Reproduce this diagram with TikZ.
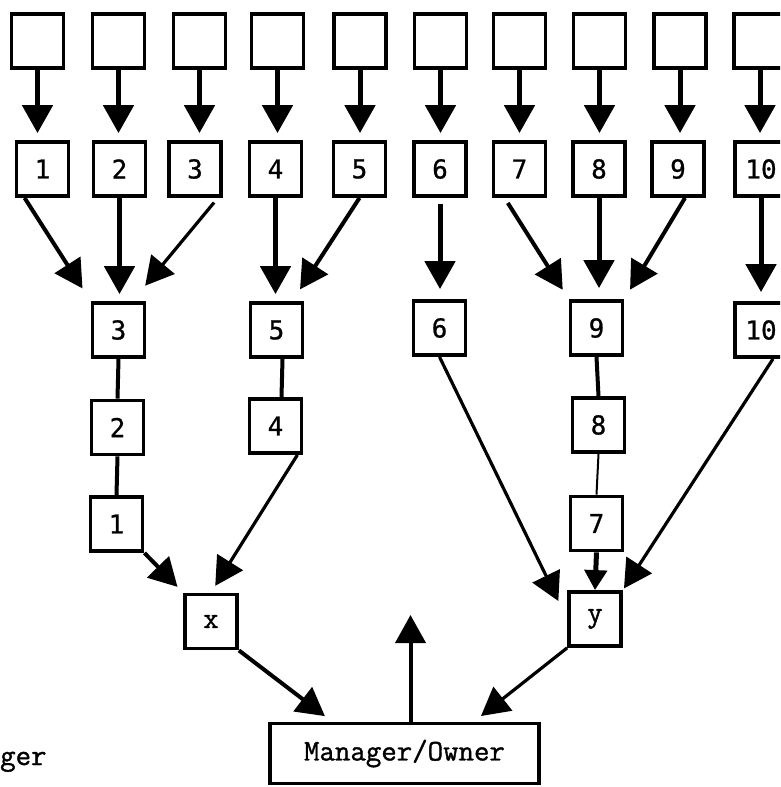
\documentclass[tikz,border=0pt]{standalone}
\usepackage{fontspec}
\newfontfamily\digitfont[FakeBold=0.8]{DejaVu Sans Mono}
\newfontfamily\typefont[FakeBold=1.2]{Latin Modern Mono}
\usetikzlibrary{arrows.meta}
\tikzset{
  box/.style={draw, line width=3.8pt, minimum width=52pt, minimum height=54pt,
    inner sep=0pt, font=\digitfont\fontsize{26}{26}\selectfont},
  letterbox/.style={box, font=\typefont\fontsize{30}{30}\selectfont},
  ttlabel/.style={font=\typefont\fontsize{30}{30}\selectfont},
  bighead/.style={-{Triangle[width=30pt,length=28pt]}},
  flow/.style={bighead, line width=5pt},
  slant/.style={bighead, line width=4pt},
  slender/.style={bighead, line width=3.2pt},
  link/.style={line width=4pt},
  thinlink/.style={line width=2pt},
}
\begin{document}
\begin{tikzpicture}[x=1pt,y=-1pt]
\useasboundingbox (0,0) rectangle (780,787);
\clip (0,0) rectangle (780,787);

% top row: unlabelled boxes
\foreach \i/\x in {1/37.5,2/118.5,3/199.5,4/277.5,5/360,6/440.5,7/519.5,8/599.5,9/680,10/760}
  \node[box] (A\i) at (\x,41) {};

% second row: numbered boxes
\foreach \i/\x in {1/42.5,2/119.5,3/195,4/275.5,5/359.5,6/440,7/519.5,8/599,9/678,10/761}
  \node[box] (B\i) at (\x,169) {\i};

% third row
\node[box] (L3) at (118.5,330) {3};
\node[box] (L5) at (276.5,330) {5};
\node[box] (R6) at (439.5,328) {6};
\node[box] (R9) at (596.5,328) {9};
\node[box] (R10) at (761,330) {10};

% stacked chains
\node[box] (L2) at (117.5,427.5) {2};
\node[box] (L1) at (116.5,524) {1};
\node[box] (L4) at (275.5,426) {4};
\node[box] (R8) at (598.5,425) {8};
\node[box] (R7) at (596.5,523.5) {7};

% collectors
\node[letterbox] (X) at (211,621.5) {x};
\node[letterbox] (Y) at (595,619) {y};

% manager
\node[draw, line width=3.8pt, minimum width=269pt, minimum height=60pt, inner sep=0pt,
      ttlabel] (M) at (404.5,753.5) {Manager/Owner};
\node[ttlabel, anchor=base west, inner sep=0pt] (ger) at (0,765) {ger};

% top row into second row
\foreach \i in {1,...,10}
  \draw[flow, shorten >=7pt] (A\i.south) -- (A\i.south |- B\i.north);

% second row into third row
\draw[slant, shorten >=15pt] ([xshift=10pt]B1.south west) -- (L3.north west);
\draw[flow, shorten >=7pt] (B2.south) -- (B2.south |- L3.north);
\draw[slender, shorten <=6pt, shorten >=20pt] ([xshift=-5pt]B3.south east) -- ([xshift=-14pt]L3.north east);
\draw[flow, shorten >=7pt] (B4.south) -- (B4.south |- L5.north);
\draw[slant, shorten >=14pt] (B5.south) -- ([xshift=-12pt]L5.north east);
\draw[flow, shorten <=6pt, shorten >=10pt] (B6.south) -- (B6.south |- R6.north);
\draw[slant, shorten <=6pt, shorten >=11pt] ([xshift=13pt]B7.south west) -- (R9.north west);
\draw[flow, shorten >=11pt] (B8.south) -- (B8.south |- R9.north);
\draw[slant, shorten >=11pt] ([xshift=7pt]B9.south) -- (R9.north east);
\draw[flow, shorten >=9pt] (B10.south) -- (B10.south |- R10.north);

% chains
\draw[link] (L3.south) -- (L2.north);
\draw[link] (L2.south) -- (L1.north);
\draw[link] ([xshift=6pt]L5.south) -- ([xshift=6pt]L4.north);
\draw[link] (R9.south) -- (R8.north);
\draw[thinlink] (R8.south) -- (R7.north);

% into x and y
\draw[slant, shorten >=8pt] (L1.south east) -- (X.north west);
\draw[slender, shorten >=8pt] ([xshift=-6pt]L4.south east) -- (X.north);
\draw[slender, shorten >=20pt] (R6.south) -- (Y.west);
\draw[-{Triangle[width=22pt,length=20pt]}, line width=5pt] (R7.south) -- (Y.north);
\draw[slender, shorten >=2pt] ([xshift=12pt]R10.south) -- (Y.north east);

% into the manager, and the manager's own output
\draw[slant, shorten >=9pt] (X.south east) -- ([xshift=64pt]M.north west);
\draw[slender, shorten >=9pt] (Y.south west) -- ([xshift=-67pt]M.north east);
\coordinate (up) at (410.5,615);
\draw[slant] ([xshift=6pt]M.north) -- (up);
\end{tikzpicture}
\end{document}
